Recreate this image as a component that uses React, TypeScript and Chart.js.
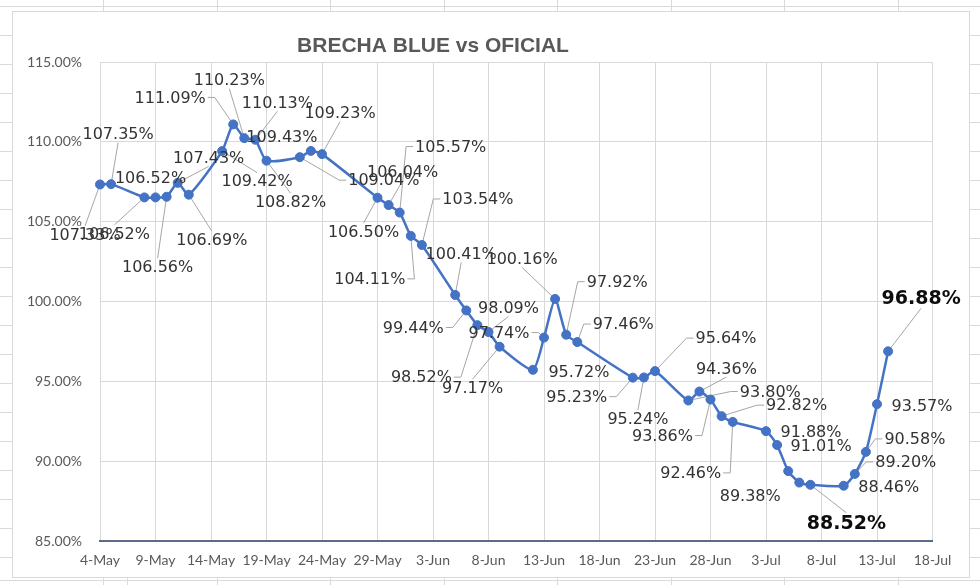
import React, { useEffect, useRef } from 'react';
import { Chart, registerables } from 'chart.js';

Chart.register(...registerables);

// ---- Data ----
const dates: string[] = [
  '2023-05-04', '2023-05-05', '2023-05-08', '2023-05-09', '2023-05-10', '2023-05-11', '2023-05-12',
  '2023-05-15', '2023-05-16', '2023-05-17', '2023-05-18', '2023-05-19',
  '2023-05-22', '2023-05-23', '2023-05-24', '2023-05-29', '2023-05-30', '2023-05-31',
  '2023-06-01', '2023-06-02', '2023-06-05', '2023-06-06', '2023-06-07', '2023-06-08', '2023-06-09',
  '2023-06-12', '2023-06-13', '2023-06-14', '2023-06-15', '2023-06-16',
  '2023-06-21', '2023-06-22', '2023-06-23', '2023-06-26', '2023-06-27', '2023-06-28', '2023-06-29', '2023-06-30',
  '2023-07-03', '2023-07-04', '2023-07-05', '2023-07-06', '2023-07-07',
  '2023-07-10', '2023-07-11', '2023-07-12', '2023-07-13', '2023-07-14',
];

const brecha: number[] = [
  107.33, 107.35, 106.52, 106.52, 106.56, 107.43, 106.69,
  109.42, 111.09, 110.23, 110.13, 108.82,
  109.04, 109.43, 109.23, 106.50, 106.04, 105.57,
  104.11, 103.54, 100.41, 99.44, 98.52, 98.09, 97.17,
  95.72, 97.74, 100.16, 97.92, 97.46,
  95.23, 95.24, 95.64, 93.80, 94.36, 93.86, 92.82, 92.46,
  91.88, 91.01, 89.38, 88.66, 88.52,
  88.46, 89.20, 90.58, 93.57, 96.88,
];

const xTickLabels: string[] = [
  '4-May', '9-May', '14-May', '19-May', '24-May', '29-May', '3-Jun', '8-Jun',
  '13-Jun', '18-Jun', '23-Jun', '28-Jun', '3-Jul', '8-Jul', '13-Jul', '18-Jul',
];

const yTickLabels: string[] = ['85.00%', '90.00%', '95.00%', '100.00%', '105.00%', '110.00%', '115.00%'];

const titleText = 'BRECHA BLUE vs OFICIAL';

// dates whose labels are emphasised
const boldDates: string[] = ['2023-07-07', '2023-07-14'];

// label placement (offset of label centre from its point, leader flag); null = no label
const labelOffsets: ([number, number, number] | null)[] = [
  [-15, 50, 1], [7, -50, 1], [-30, 36, 1], [-5, -20, 0], [-9, 70, 1], [31, -25, 1], [23, 45, 1],
  [35, 30, 1], [-63, -27, 1], [-15, -58, 1], [22, -37, 1], [24, 41, 1],
  [84, 23, 1], [-29, -14, 0], [18, -41, 1], [-14, 34, 1], [14, -33, 1], [51, -66, 1],
  [-41, 43, 1], [56, -46, 1], [6, -41, 1], [-53, 17, 1], [-56, 52, 1], [20, -24, 1], [-27, 41, 1],
  [46, 2, 0], [-45, -5, 1], [-33, -40, 1], [51, -53, 1], [46, -18, 1],
  [-56, 19, 1], [-6, 41, 1], [71, -33, 1], [82, -9, 1], [27, -23, 1], [-48, 36, 1], [75, -11, 1], [-42, 51, 1],
  [45, 1, 0], [44, 1, 0], [-38, 25, 0], null, [36, 38, 1],
  [45, 1, 0], [51, -12, 1], [49, -13, 1], [45, 2, 0], [33, -53, 1],
];

const START = Date.UTC(2023, 4, 4);
const dayOffset = (d: string) => (Date.parse(d + 'T00:00:00Z') - START) / 86400000;

const LABEL_FONT = '16px "DejaVu Sans"';
const BOLD_FONT = 'bold 19px "DejaVu Sans"';

function labelGeometry(chart: any, i: number) {
  const off = labelOffsets[i];
  if (!off) return null;
  const meta = chart.getDatasetMeta(0);
  const el = meta.data[i];
  if (!el) return null;
  const bold = boldDates.includes(dates[i]);
  const ctx = chart.ctx;
  ctx.save();
  ctx.font = bold ? BOLD_FONT : LABEL_FONT;
  const text = brecha[i].toFixed(2) + '%';
  const w = ctx.measureText(text).width;
  ctx.restore();
  const h = bold ? 16 : 13;
  const lx = el.x + off[0];
  const ly = el.y + off[1];
  return { px: el.x, py: el.y, lx, ly, w, h, text, bold, leader: off[2] === 1 };
}

const bgPlugin = {
  id: 'sheetBg',
  beforeDraw(chart: any) {
    const ctx = chart.ctx;
    ctx.save();
    ctx.fillStyle = '#ffffff';
    ctx.fillRect(0, 0, chart.width, chart.height);
    ctx.strokeStyle = '#DADADA';
    ctx.lineWidth = 1;
    ctx.beginPath();
    ctx.moveTo(0, 6.5); ctx.lineTo(980, 6.5);
    ctx.moveTo(0, 580.5); ctx.lineTo(980, 580.5);
    [103, 217, 330, 444, 557, 671, 784, 898].forEach((x) => {
      ctx.moveTo(x + 0.5, 0); ctx.lineTo(x + 0.5, 11);
      ctx.moveTo(x + 0.5, 577); ctx.lineTo(x + 0.5, 585);
    });
    ctx.moveTo(127.5, 577); ctx.lineTo(127.5, 585);
    for (let k = 0; k <= 18; k++) {
      const y = 35 + k * 29 + 0.5;
      ctx.moveTo(0, y); ctx.lineTo(12, y);
      ctx.moveTo(970, y); ctx.lineTo(980, y);
    }
    ctx.stroke();
    ctx.strokeStyle = '#D9D9D9';
    ctx.strokeRect(12.5, 11.5, 957, 566);
    ctx.restore();
  },
};

const leaderPlugin = {
  id: 'leaders',
  beforeDatasetsDraw(chart: any) {
    const ctx = chart.ctx;
    ctx.save();
    ctx.strokeStyle = '#A6A6A6';
    ctx.lineWidth = 1;
    for (let i = 0; i < brecha.length; i++) {
      const g = labelGeometry(chart, i);
      if (!g || !g.leader) continue;
      const left = g.lx - g.w / 2 - 2;
      const right = g.lx + g.w / 2 + 2;
      const top = g.ly - g.h / 2 - 2;
      const bottom = g.ly + g.h / 2 + 2;
      ctx.beginPath();
      if (g.px < left) {
        ctx.moveTo(left, g.ly);
        ctx.lineTo(left - 7, g.ly);
      } else if (g.px > right) {
        ctx.moveTo(right, g.ly);
        ctx.lineTo(right + 7, g.ly);
      } else if (g.py < top) {
        ctx.moveTo(g.lx, top);
      } else {
        ctx.moveTo(g.lx, bottom);
      }
      ctx.lineTo(g.px, g.py);
      ctx.stroke();
    }
    ctx.restore();
  },
};

const labelPlugin = {
  id: 'pointLabels',
  afterDatasetsDraw(chart: any) {
    const ctx = chart.ctx;
    ctx.save();
    ctx.textAlign = 'center';
    ctx.textBaseline = 'middle';
    for (let i = 0; i < brecha.length; i++) {
      const g = labelGeometry(chart, i);
      if (!g) continue;
      ctx.font = g.bold ? BOLD_FONT : LABEL_FONT;
      ctx.fillStyle = g.bold ? '#0D0D0D' : '#333333';
      ctx.fillText(g.text, g.lx, g.ly + 1);
    }
    ctx.restore();
  },
};

const titlePlugin = {
  id: 'sheetTitle',
  afterDraw(chart: any) {
    const ctx = chart.ctx;
    ctx.save();
    ctx.font = 'bold 21px "Liberation Sans"';
    ctx.fillStyle = '#595959';
    ctx.textAlign = 'center';
    ctx.textBaseline = 'middle';
    ctx.fillText(titleText, 433, 46);
    ctx.restore();
  },
};

export default function App() {
  const canvasRef = useRef<HTMLCanvasElement | null>(null);

  useEffect(() => {
    if (!canvasRef.current) return;
    const points = dates.map((d, i) => ({ x: dayOffset(d), y: brecha[i] }));
    const chart = new Chart(canvasRef.current, {
      type: 'line',
      data: {
        datasets: [
          {
            label: titleText,
            data: points,
            borderColor: '#4472C4',
            backgroundColor: '#4472C4',
            borderWidth: 2.5,
            pointRadius: 4.5,
            pointBorderWidth: 1,
            pointBackgroundColor: '#4472C4',
            pointBorderColor: '#4472C4',
            tension: 0.2,
            clip: false,
          },
        ],
      },
      options: {
        responsive: false,
        devicePixelRatio: 1,
        animation: false,
        events: [],
        layout: { padding: { left: 0, right: 47.5, top: 62, bottom: 0 } },
        plugins: {
          legend: { display: false },
          tooltip: { enabled: false },
          title: { display: false },
        },
        scales: {
          x: {
            type: 'linear',
            min: 0,
            max: 75,
            afterFit: (s: any) => { s.height = 44; },
            afterBuildTicks: (s: any) => {
              s.ticks = xTickLabels.map((_, i) => ({ value: i * 5 }));
            },
            ticks: {
              callback: (_v: any, i: number) => xTickLabels[i],
              color: '#595959',
              font: { family: 'Lato', size: 14 },
              padding: 11,
              maxRotation: 0,
              autoSkip: false,
            },
            grid: { color: '#D9D9D9', lineWidth: 1, drawTicks: false },
            border: { display: true, color: '#5B6B8C', width: 2 },
          },
          y: {
            type: 'linear',
            min: 85,
            max: 115,
            afterFit: (s: any) => { s.width = 100; },
            afterBuildTicks: (s: any) => {
              s.ticks = yTickLabels.map((_, i) => ({ value: 85 + i * 5 }));
            },
            ticks: {
              callback: (_v: any, i: number) => yTickLabels[i],
              color: '#595959',
              font: { family: 'Lato', size: 14 },
              padding: 18,
            },
            grid: { color: '#D9D9D9', lineWidth: 1, drawTicks: false },
            border: { display: false },
          },
        },
      },
      plugins: [bgPlugin, leaderPlugin, labelPlugin, titlePlugin],
    } as any);
    return () => chart.destroy();
  }, []);

  return (
    <div style={{ position: 'absolute', left: 0, top: 0, width: 980, height: 585 }}>
      <canvas ref={canvasRef} width={980} height={585} style={{ display: 'block' }} />
    </div>
  );
}
